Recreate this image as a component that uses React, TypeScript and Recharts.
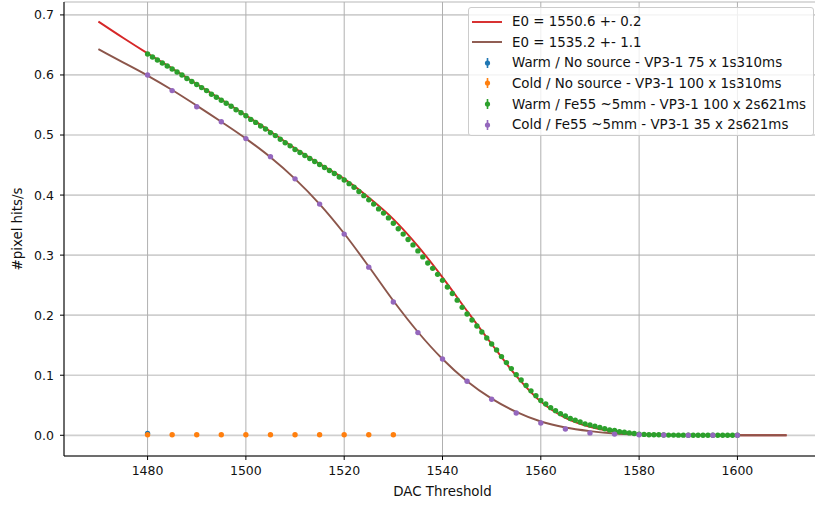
import React from "react";
import { ComposedChart, Line, Scatter, XAxis, YAxis, CartesianGrid, Legend, Label } from "recharts";

const FONT = "'DejaVu Sans', sans-serif";
const LABEL_SIZE = 13.4;
const TICK_SIZE = 12.5;

// Warm / Fe55 scan: one point per DAC unit starting at 1480
const warmFe55Start = 1480;
const warmFe55Rate = [
  0.635, 0.63, 0.625, 0.62, 0.615, 0.61, 0.605, 0.6, 0.594, 0.589,
  0.584, 0.579, 0.574, 0.568, 0.563, 0.558, 0.553, 0.548, 0.542, 0.537,
  0.532, 0.526, 0.521, 0.515, 0.51, 0.504, 0.499, 0.493, 0.487, 0.482,
  0.476, 0.471, 0.466, 0.461, 0.456, 0.451, 0.446, 0.441, 0.436, 0.43,
  0.425, 0.419, 0.413, 0.406, 0.399, 0.392, 0.385, 0.377, 0.37, 0.362,
  0.353, 0.344, 0.335, 0.326, 0.317, 0.307, 0.297, 0.287, 0.278, 0.268,
  0.258, 0.247, 0.236, 0.225, 0.213, 0.202, 0.192, 0.182, 0.172, 0.162,
  0.152, 0.142, 0.131, 0.121, 0.111, 0.101, 0.092, 0.083, 0.074, 0.066,
  0.058, 0.052, 0.046, 0.041, 0.036, 0.032, 0.028, 0.025, 0.022, 0.019,
  0.017, 0.015, 0.013, 0.011, 0.009, 0.008, 0.006, 0.005, 0.004, 0.003,
  0.002, 0.0015, 0.001, 0.001, 0.0008, 0.0005, 0.0003, 0.0003, 0.0002, 0.0002,
  0.0001, 0.0001, 0.0001, 0, 0, 0, 0, 0, 0, 0,
  0,
];

// Cold / Fe55 scan, 5 DAC steps
const coldFe55Thresholds = [
  1480, 1485, 1490, 1495, 1500, 1505, 1510, 1515, 1520, 1525, 1530, 1535, 1540,
  1545, 1550, 1555, 1560, 1565, 1570, 1575, 1580, 1585, 1590, 1595, 1600,
];
const coldFe55Rate = [
  0.6, 0.574, 0.547, 0.522, 0.494, 0.464, 0.427, 0.385, 0.335, 0.28, 0.222, 0.171, 0.127,
  0.09, 0.06, 0.037, 0.0205, 0.0105, 0.004, 0.002, 0.001, 0.0005, 0, 0, 0,
];

const coldNoSourceThresholds = [1480, 1485, 1490, 1495, 1500, 1505, 1510, 1515, 1520, 1525, 1530];
const coldNoSourceRate = [0.001, 0.001, 0.001, 0.001, 0.001, 0.001, 0.001, 0.001, 0.001, 0.001, 0.001];

const warmNoSourceThresholds = [1480];
const warmNoSourceRate = [0.003];

// erf fits, sampled every 5 DAC
const fitThresholds = [
  1470, 1475, 1480, 1485, 1490, 1495, 1500, 1505, 1510, 1515, 1520, 1525, 1530, 1535, 1540,
  1545, 1550, 1555, 1560, 1565, 1570, 1575, 1580, 1585, 1590, 1595, 1600, 1605, 1610,
];
const warmFitRate = [
  0.689, 0.662, 0.636, 0.611, 0.585, 0.559, 0.533, 0.506, 0.478, 0.452, 0.427, 0.396, 0.36, 0.315, 0.263,
  0.207, 0.152, 0.099, 0.056, 0.029, 0.014, 0.006, 0.002, 0.001, 0.0003, 0.0001, 0, 0, 0,
];
const coldFitRate = [
  0.643, 0.621, 0.599, 0.575, 0.549, 0.522, 0.494, 0.463, 0.427, 0.385, 0.336, 0.281, 0.224, 0.172, 0.127,
  0.09, 0.061, 0.039, 0.023, 0.013, 0.007, 0.003, 0.0015, 0.0007, 0.0003, 0.0001, 0, 0, 0,
];

const xTicks = [1480, 1500, 1520, 1540, 1560, 1580, 1600];
const yTicks = [0, 0.1, 0.2, 0.3, 0.4, 0.5, 0.6, 0.7];

const warmFitLabel = "E0 = 1550.6 +- 0.2";
const coldFitLabel = "E0 = 1535.2 +- 1.1";
const warmNoSourceLabel = "Warm / No source - VP3-1 75 x 1s310ms";
const coldNoSourceLabel = "Cold / No source - VP3-1 100 x 1s310ms";
const warmFe55Label = "Warm / Fe55 ~5mm - VP3-1 100 x 2s621ms";
const coldFe55Label = "Cold / Fe55 ~5mm - VP3-1 35 x 2s621ms";

const C = {
  blue: "#1f77b4",
  orange: "#ff7f0e",
  green: "#2ca02c",
  red: "#d62728",
  purple: "#9467bd",
  brown: "#8c564b",
};

const pairs = (xs: number[], ys: number[]) => xs.map((x, i) => ({ x, y: ys[i] }));

const warmFe55 = warmFe55Rate.map((y, i) => ({ x: warmFe55Start + i, y }));
const coldFe55 = pairs(coldFe55Thresholds, coldFe55Rate);
const coldNoSource = pairs(coldNoSourceThresholds, coldNoSourceRate);
const warmNoSource = pairs(warmNoSourceThresholds, warmNoSourceRate);
const warmFit = pairs(fitThresholds, warmFitRate);
const coldFit = pairs(fitThresholds, coldFitRate);

const legendItems = [
  { label: warmFitLabel, color: C.red, kind: "line" },
  { label: coldFitLabel, color: C.brown, kind: "line" },
  { label: warmNoSourceLabel, color: C.blue, kind: "err" },
  { label: coldNoSourceLabel, color: C.orange, kind: "err" },
  { label: warmFe55Label, color: C.green, kind: "err" },
  { label: coldFe55Label, color: C.purple, kind: "err" },
];

const dot = (color: string) => (p: any) => <circle cx={p.cx} cy={p.cy} r={2.7} fill={color} />;

function LegendBox() {
  return (
    <div
      style={{
        position: "relative",
        width: 344,
        height: 127,
        border: "1px solid #cccccc",
        borderRadius: 3,
        background: "rgba(255,255,255,0.8)",
        fontFamily: FONT,
        fontSize: LABEL_SIZE,
        color: "#111",
      }}
    >
      {legendItems.map((item, i) => (
        <div
          key={item.label}
          style={{
            position: "absolute",
            left: 0,
            top: 3.2 + i * 20.65,
            height: 20.65,
            display: "flex",
            alignItems: "center",
            whiteSpace: "nowrap",
          }}
        >
          <svg width={43} height={20} style={{ flex: "none" }}>
            {item.kind === "line" ? (
              <line x1={3} x2={33} y1={10} y2={10} stroke={item.color} strokeWidth={1.9} />
            ) : (
              <g>
                <line x1={18.5} x2={18.5} y1={5} y2={15} stroke={item.color} strokeWidth={1.6} />
                <circle cx={18.5} cy={10} r={2.6} fill={item.color} />
              </g>
            )}
          </svg>
          <span>{item.label}</span>
        </div>
      ))}
    </div>
  );
}

export default function App() {
  const tickStyle = { fontFamily: FONT, fontSize: TICK_SIZE, fill: "#111" };
  return (
    <div
      style={{
        position: "absolute",
        left: 0,
        top: 0,
        width: 815,
        height: 505,
        overflow: "hidden",
        background: "#fff",
      }}
    >
      <ComposedChart width={830} height={505} margin={{ top: 2, right: 9, bottom: 0, left: 0 }}>
        <CartesianGrid vertical={false} stroke="#cfcfcf" strokeWidth={1.7} />
        <CartesianGrid horizontal={false} stroke="#b0b0b0" strokeWidth={1} />
        <XAxis
          type="number"
          dataKey="x"
          domain={[1463, 1617]}
          allowDataOverflow
          ticks={xTicks}
          height={49}
          tickSize={4}
          tickMargin={6}
          stroke="#000"
          tick={tickStyle}
        >
          <Label
            content={() => (
              <text x={442.5} y={496} textAnchor="middle" fontFamily={FONT} fontSize={LABEL_SIZE} fill="#111">
                DAC Threshold
              </text>
            )}
          />
        </XAxis>
        <XAxis
          xAxisId="top"
          orientation="top"
          type="number"
          domain={[1463, 1617]}
          allowDataOverflow
          height={0}
          tick={false}
          tickLine={false}
          stroke="#000"
        />
        <YAxis
          type="number"
          dataKey="y"
          domain={[-0.0345, 0.7215]}
          allowDataOverflow
          ticks={yTicks}
          width={64}
          tickSize={4}
          tickMargin={6}
          stroke="#000"
          tick={tickStyle}
          tickFormatter={(v: number) => v.toFixed(1)}
        >
          <Label
            content={() => (
              <text
                x={17}
                y={229}
                transform="rotate(-90 17 229)"
                textAnchor="middle"
                dominantBaseline="central"
                fontFamily={FONT}
                fontSize={LABEL_SIZE}
                fill="#111"
              >
                #pixel hits/s
              </text>
            )}
          />
        </YAxis>
        <Line data={warmFit} dataKey="y" type="monotone" stroke={C.red} strokeWidth={1.9} dot={false} activeDot={false} isAnimationActive={false} />
        <Line data={coldFit} dataKey="y" type="monotone" stroke={C.brown} strokeWidth={1.9} dot={false} activeDot={false} isAnimationActive={false} />
        <Scatter data={warmNoSource} dataKey="y" shape={dot(C.blue)} isAnimationActive={false} />
        <Scatter data={coldNoSource} dataKey="y" shape={dot(C.orange)} isAnimationActive={false} />
        <Scatter data={warmFe55} dataKey="y" shape={dot(C.green)} isAnimationActive={false} />
        <Scatter data={coldFe55} dataKey="y" shape={dot(C.purple)} isAnimationActive={false} />
        <Legend
          layout="horizontal"
          verticalAlign="middle"
          align="center"
          wrapperStyle={{ left: 468, top: 7, width: 346 }}
          content={() => <LegendBox />}
        />
      </ComposedChart>
    </div>
  );
}
